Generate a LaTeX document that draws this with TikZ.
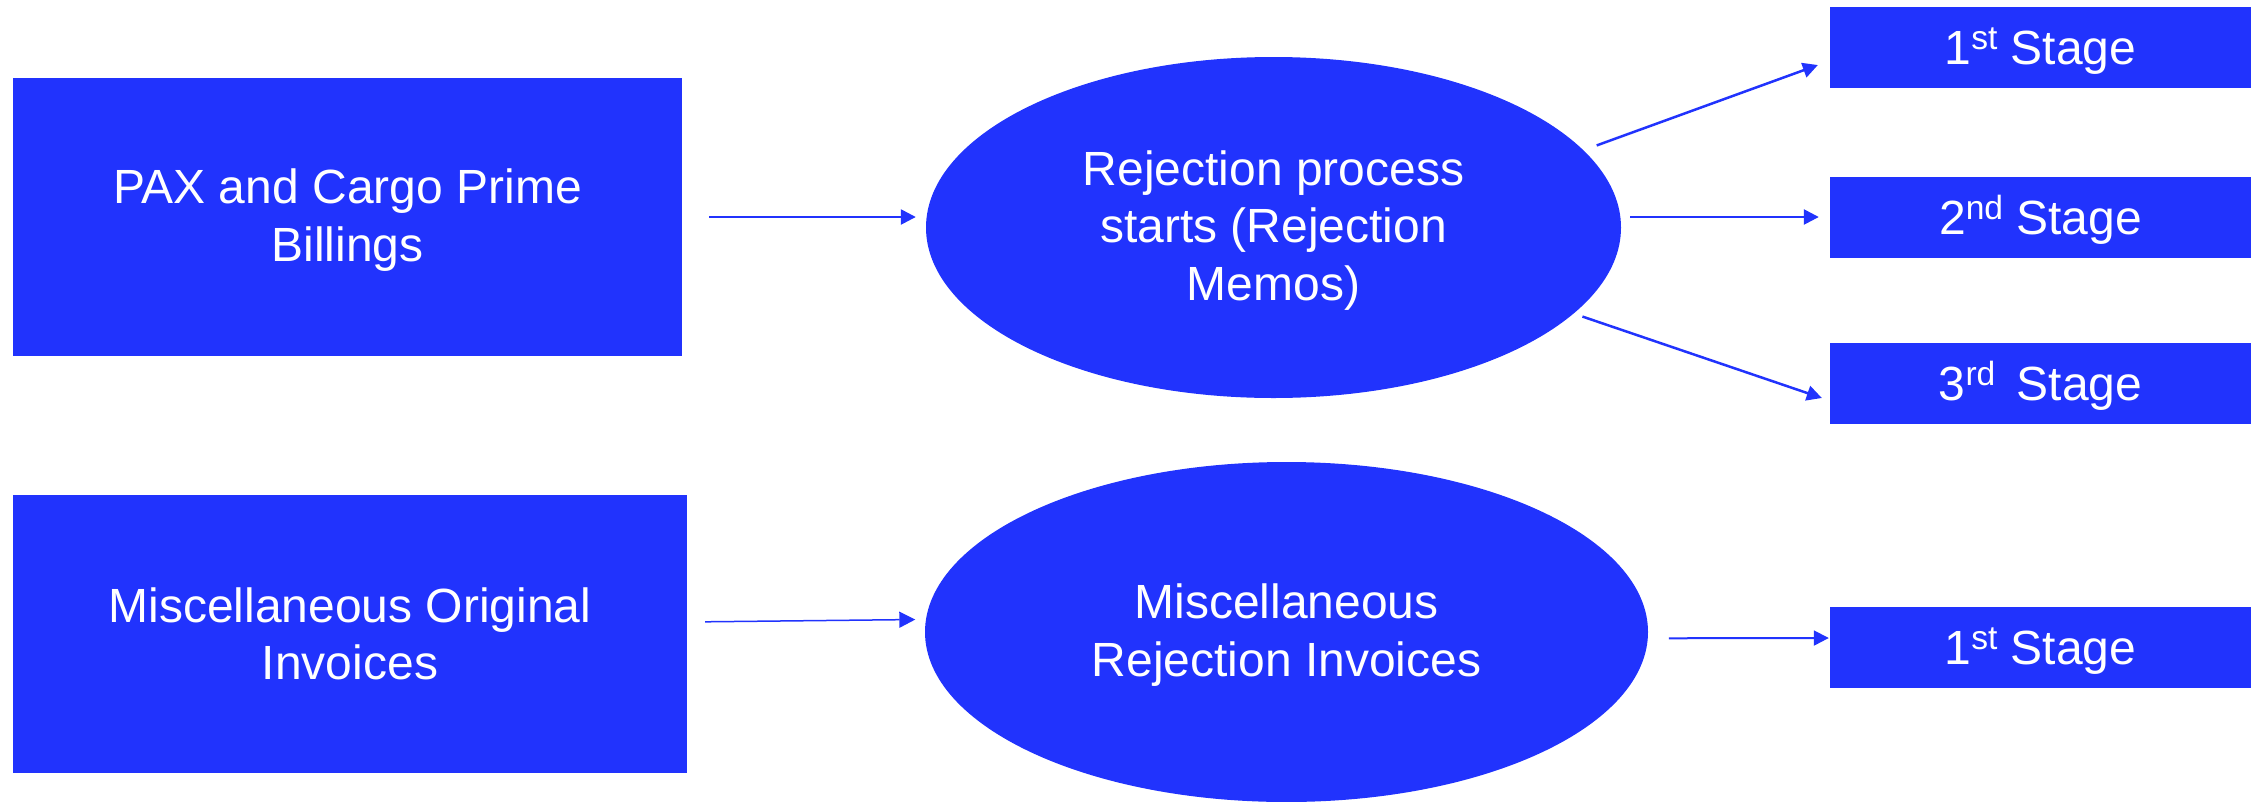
\documentclass[tikz,border=0pt]{standalone}
\usepackage{fontspec}
\setmainfont{Liberation Sans}
\usetikzlibrary{arrows.meta,shapes.geometric,calc}
\definecolor{fillblue}{RGB}{33,51,253}
\newcommand\sups[1]{\raisebox{15pt}{\fontsize{33.6}{33.6}\selectfont #1}}
\newcommand\topstrut{\rule{0pt}{40.5pt}}
\tikzset{
  bluebox/.style={rectangle,fill=fillblue,draw=none,inner sep=0pt,text=white,align=center,
    font=\fontsize{48}{57.5}\selectfont},
  blueell/.style={ellipse,fill=fillblue,draw=none,inner sep=0pt,text=white,align=center,
    font=\fontsize{48}{57.5}\selectfont},
  stagebox/.style={bluebox,minimum width=421pt,minimum height=81pt,text height=34pt,text depth=0pt},
  arr/.style={draw=fillblue,line width=2.5pt,-{Triangle[length=15pt,width=15pt]}},
  arrthin/.style={draw=fillblue,line width=1.5pt,-{Triangle[length=16pt,width=16pt]}}
}
\begin{document}
\begin{tikzpicture}[x=1pt,y=-1pt]
\useasboundingbox (0,0) rectangle (2257,801);
% nodes
\node[bluebox,minimum width=669pt,minimum height=278pt] (pax) at (347.5,217) {\topstrut PAX and Cargo Prime\\Billings};
\node[bluebox,minimum width=674pt,minimum height=278pt] (misc) at (350,634) {Miscellaneous Original\\Invoices};
\node[blueell,minimum width=695pt,minimum height=341pt] (ell1) at (1273.5,227.5) {\topstrut Rejection process\\starts (Rejection\\Memos)};
\node[blueell,minimum width=723pt,minimum height=340pt] (ell2) at (1286.5,632) {\topstrut Miscellaneous\\Rejection Invoices};
\node[stagebox] (st1) at (2040.5,47.5) {1\sups{st} Stage};
\node[stagebox] (st2) at (2040.5,217) {2\sups{nd} Stage};
\node[stagebox] (st3) at (2040.5,383.5) {3\sups{rd}\hspace{8pt} Stage};
\node[stagebox] (stb) at (2040.5,647.5) {1\sups{st} Stage};
% connectors
\draw[arr,shorten <=27pt,shorten >=10pt] (pax.east) -- (pax.east -| ell1.west);
\draw[arrthin,shorten <=18pt,shorten >=10.5pt] ($(misc.east)+(0,-12)$) -- (ell2.178.4);
\draw[arr,shorten <=14pt,shorten >=12.7pt] (ell1.14.2) -- ($(st1.west)+(0,13.2)$);
\draw[arr,shorten <=9pt,shorten >=11pt] (ell1.east |- st2.west) -- (st2.west);
\draw[arr,shorten <=9.2pt,shorten >=8.4pt] (ell1.-16) -- ($(st3.west)+(0,17.2)$);
\draw[arr,line width=2pt,shorten <=21pt,shorten >=1pt] (ell2.-1.2) -- ($(stb.west)+(0,-9.5)$);
\end{tikzpicture}
\end{document}
